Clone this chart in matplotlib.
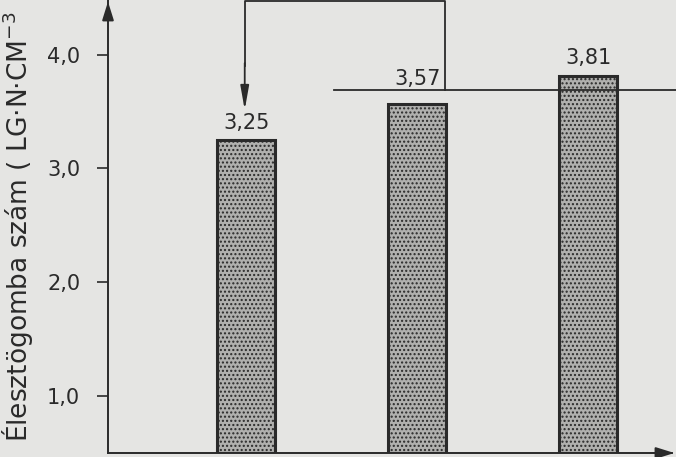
import matplotlib
matplotlib.use("Agg")
import matplotlib.pyplot as plt

categories = ["A", "B", "C"]
values = [3.25, 3.57, 3.81]
value_labels = ["3,25", "3,57", "3,81"]
yticks = [1.0, 2.0, 3.0, 4.0]
ytick_labels = ["1,0", "2,0", "3,0", "4,0"]
ylabel = "Élesztögomba szám ( LG·N·CM$^{-3}$"

bg = "#e5e5e3"
ink = "#2a2a2a"
plt.rcParams['font.family'] = ['DejaVu Sans']
plt.rcParams['hatch.color'] = "#4a4a4a"

fig = plt.figure(figsize=(6.76, 4.57), dpi=100, facecolor=bg)
ax = fig.add_axes([108/676, 4/457, (672-108)/676, (457-4)/457], facecolor=bg)

base = 0.5
x = list(range(len(categories)))
bars = ax.bar(x, [v - base for v in values], bottom=base, width=0.34,
              color="#b0b0ae", edgecolor=ink, linewidth=2.2, hatch="....", zorder=2)

offsets = [0.15, 0.22, 0.16]
for xi, v, lab, off in zip(x, values, value_labels, offsets):
    ax.text(xi, v + off, lab, ha="center", va="center", fontsize=15, color=ink)

ax.set_xlim(-0.81, 2.49)
ax.set_ylim(base, 4.48)
ax.set_yticks(yticks)
ax.set_yticklabels(ytick_labels, fontsize=15, color=ink)
ax.set_xticks([])
ax.tick_params(axis="y", direction="out", length=8, width=1.2, color=ink, pad=12)
for s in ["top", "right"]:
    ax.spines[s].set_visible(False)
for s in ["left", "bottom"]:
    ax.spines[s].set_color(ink)
    ax.spines[s].set_linewidth(1.4)

# axis arrows
ax.annotate("", xy=(-0.81, 4.49), xytext=(-0.81, 4.3),
            arrowprops=dict(arrowstyle="-|>,head_width=0.25,head_length=0.8", color=ink,
                            lw=1.4, mutation_scale=14),
            annotation_clip=False)
ax.annotate("", xy=(2.52, base), xytext=(2.35, base),
            arrowprops=dict(arrowstyle="-|>,head_width=0.25,head_length=0.8", color=ink,
                            lw=1.4, mutation_scale=14),
            annotation_clip=False)

# bracket
ytop = 4.47
yline = 3.69
ax.plot([0.51, 2.55], [yline, yline], color=ink, lw=1.3, clip_on=False)
ax.plot([1.16, 1.16, -0.01, -0.01], [yline, ytop, ytop, 3.9], color=ink, lw=1.3, clip_on=False)
ax.annotate("", xy=(-0.01, 3.49), xytext=(-0.01, 3.95),
            arrowprops=dict(arrowstyle="-|>,head_width=0.16,head_length=0.9", color=ink,
                            lw=1.3, mutation_scale=16),
            annotation_clip=False)

fig.text(18/676, 1 - 442/457, ylabel, rotation=90, ha="center", va="bottom",
         fontsize=19, color=ink)

fig.savefig("out.png", dpi=100, facecolor=bg)
